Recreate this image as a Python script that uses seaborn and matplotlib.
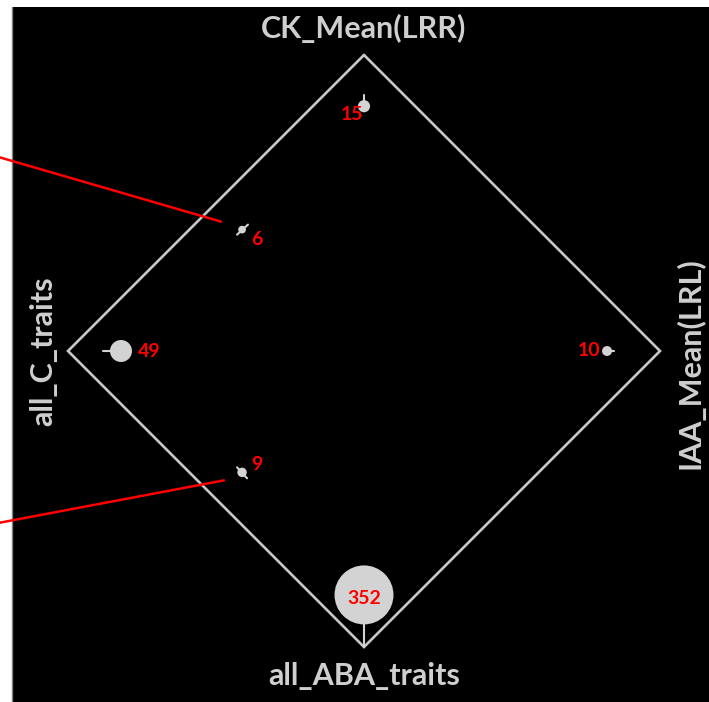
import numpy as np, pandas as pd
import matplotlib
matplotlib.use("Agg")
import matplotlib.pyplot as plt
from matplotlib.patches import Rectangle
import seaborn as sns

sns.set_theme(style="white")
plt.rcParams["font.family"] = ["Lato", "DejaVu Sans"]

# ---- data (diamond coords: vertices at (0,1), (-1,0), (1,0), (0,-1)) ----
vertex_names = ["CK_Mean(LRR)", "all_C_traits", "IAA_Mean(LRL)", "all_ABA_traits"]
vert_u = [0, -1, 0, 1, 0]
vert_v = [1, 0, -1, 0, 1]

counts = [15, 6, 49, 10, 9, 352]
pt_u = [0.0, -0.412, -0.821, 0.821, -0.412, 0.0]
pt_v = [0.827, 0.410, 0.0, 0.0, -0.410, -0.824]
# spread whiskers (start/end of each small segment)
wh_u0 = [0.0, -0.429, -0.821, 0.821, -0.429, 0.0]
wh_v0 = [0.827, 0.393, 0.0, 0.0, -0.393, -0.824]
wh_u1 = [0.0, -0.392, -0.882, 0.845, -0.395, 0.0]
wh_v1 = [0.864, 0.427, 0.0, 0.0, -0.430, -1.0]

# red call-out lines
call_u0 = [-1.23, -1.23]
call_v0 = [0.654, -0.580]
call_u1 = [-0.483, -0.473]
call_v1 = [0.437, -0.437]

df = pd.DataFrame({"u": pt_u, "v": pt_v, "count": counts})

# ---- layout ----
W, H = 709, 702
CX, CY, SC = 364, 351, 296          # diamond centre (px) and px per unit
label_off = [(-8.6, -5.8), (10.8, -7.2), (20.2, -0.7), (-13, 0), (10.8, 5.8), (0, -2.9)]
GREY_TXT = "#cfcfcf"
DOT = "#d3d3d3"

fig = plt.figure(figsize=(W / 100, H / 100), dpi=100)
ax = fig.add_axes([0, 0, 1, 1])
ax.set_xlim(-CX / SC, (W - CX) / SC)
ax.set_ylim((CY - H) / SC, CY / SC)
ax.set_axis_off()
fig.patch.set_facecolor("white")

# black panel
x0 = (12 - CX) / SC
ax.add_patch(Rectangle((x0, (CY - H) / SC), (W - 12) / SC, (H - 7) / SC,
                       facecolor="black", edgecolor="none", zorder=0))
ax.plot([x0, x0], [(CY - H) / SC, (CY - 7) / SC], color="#7f7f7f", lw=1, zorder=1)

# diamond
ax.plot(vert_u, vert_v, color="#c8c8c8", lw=1.9, zorder=2, solid_joinstyle="miter")

# whiskers
for a, b, c, d in zip(wh_u0, wh_v0, wh_u1, wh_v1):
    ax.plot([a, c], [b, d], color=DOT, lw=1.5, zorder=3)

# bubbles (area proportional to count)
sns.scatterplot(data=df, x="u", y="v", size="count", sizes=(0, 5.12 * 352),
                size_norm=(0, 352), color=DOT, linewidth=0, legend=False,
                ax=ax, zorder=4)
ax.set_xlabel(""); ax.set_ylabel("")

for (u, v, n), off in zip(df.itertuples(index=False), label_off):
    ax.annotate(str(n), (u, v), xytext=off, textcoords="offset points",
                ha="center", va="center", color="red", fontsize=14,
                fontweight="bold", zorder=5)

# red call-outs
for a, b, c, d in zip(call_u0, call_v0, call_u1, call_v1):
    ax.plot([a, c], [b, d], color="red", lw=1.8, zorder=6)

# vertex labels
tk = dict(color=GREY_TXT, fontsize=22, fontweight="bold", ha="center", va="center")
fig.text(CX / W, 1 - 28 / H, vertex_names[0], **tk)
fig.text(43 / W, 1 - 351 / H, vertex_names[1], rotation=90, **tk)
fig.text(690 / W, 1 - 363 / H, vertex_names[2], rotation=90, **tk)
fig.text(CX / W, 1 - 676 / H, vertex_names[3], **tk)

fig.savefig("out.png", dpi=100)
